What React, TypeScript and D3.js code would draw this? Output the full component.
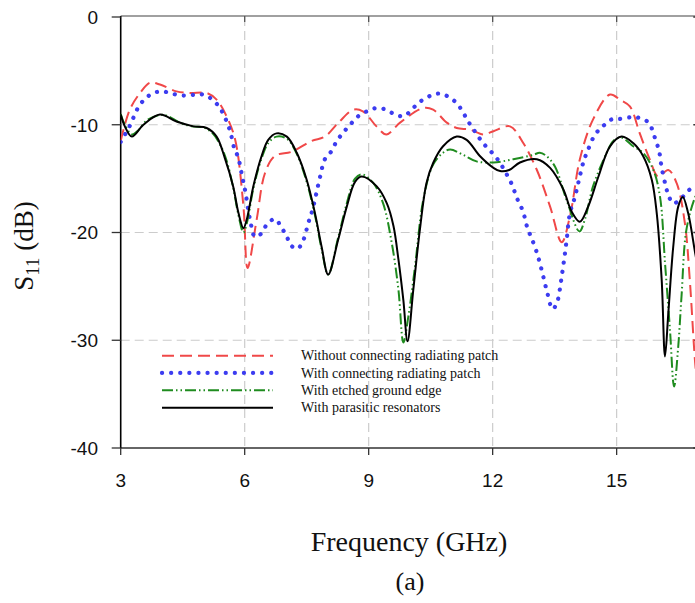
import React from "react";
import * as d3 from "d3";

const W = 695;
const H = 603;

const xTicks = [3, 6, 9, 12, 15];
const yTicks = [0, -10, -20, -30, -40];

const seriesNames = [
  "Without connecting radiating patch",
  "With connecting radiating patch",
  "With etched ground edge",
  "With parasitic resonators",
];

const redFreq = [3.0, 3.22, 3.47, 3.71, 3.95, 4.35, 4.68, 5.08, 5.32, 5.56, 5.77, 5.97, 6.07, 6.29, 6.49, 6.73, 7.14, 7.62, 7.94, 8.27, 8.63, 8.86, 9.19, 9.43, 9.76, 10.32, 10.56, 10.89, 11.13, 11.45, 11.77, 12.02, 12.42, 12.74, 13.07, 13.39, 13.67, 13.87, 14.11, 14.43, 14.84, 15.08, 15.32, 15.56, 15.8, 16.0, 16.25, 16.45, 16.65, 16.77, 16.9, 17.0];
const redS11 = [-11.5, -8.6, -7.05, -6.1, -6.27, -6.9, -7.05, -7.05, -7.67, -9.2, -11.4, -17.6, -23.3, -18.8, -14.5, -12.9, -12.5, -11.5, -11.1, -9.8, -8.6, -8.75, -10.15, -10.9, -9.8, -8.45, -8.6, -9.8, -10.3, -10.45, -10.9, -10.6, -10.15, -11.7, -14.2, -17.6, -20.9, -18.5, -13.2, -9.5, -7.2, -7.67, -8.3, -10.8, -13.2, -14.8, -14.2, -15.4, -19.1, -24.4, -32.1, -36];

const blueFreq = [3.0, 3.22, 3.43, 3.59, 3.79, 4.03, 4.23, 4.43, 4.68, 4.89, 5.1, 5.32, 5.47, 5.64, 5.75, 5.84, 5.93, 6.02, 6.13, 6.25, 6.4, 6.53, 6.73, 6.9, 7.02, 7.12, 7.28, 7.42, 7.54, 7.64, 7.82, 7.94, 8.09, 8.23, 8.37, 8.55, 8.75, 8.99, 9.19, 9.42, 9.64, 9.86, 10.06, 10.28, 10.5, 10.71, 10.93, 11.14, 11.29, 11.41, 11.55, 11.69, 11.86, 12.06, 12.22, 12.34, 12.46, 12.54, 12.62, 12.73, 12.85, 12.94, 13.08, 13.2, 13.31, 13.45, 13.55, 13.62, 13.67, 13.73, 13.79, 13.87, 13.99, 14.09, 14.2, 14.29, 14.48, 14.68, 14.88, 15.08, 15.36, 15.55, 15.77, 15.95, 16.03, 16.09, 16.19, 16.25, 16.37, 16.57, 16.77, 17.0];
const blueS11 = [-11.6, -10.1, -8.35, -7.6, -7.05, -6.92, -7.1, -7.27, -7.27, -7.14, -7.36, -8.04, -8.9, -10.5, -12.2, -13.0, -14.6, -16.3, -18.8, -20.4, -20.1, -19.3, -18.75, -19.6, -20.4, -21.2, -21.5, -20.7, -19.1, -17.9, -14.9, -13.2, -12.5, -11.5, -10.8, -10.0, -9.2, -8.7, -8.45, -8.6, -9.06, -9.2, -8.5, -7.76, -7.3, -7.1, -7.4, -8.04, -8.9, -9.7, -10.5, -11.3, -12.1, -12.9, -13.8, -14.6, -15.5, -16.3, -17.1, -18.0, -19.7, -20.5, -22.0, -23.7, -25.4, -27.1, -26.6, -25.4, -24.1, -22.5, -20.7, -18.2, -16.7, -15.1, -13.4, -12.5, -10.9, -10.1, -9.5, -9.46, -9.3, -9.37, -9.8, -11.5, -12.5, -14.0, -15.7, -16.5, -17.3, -16.8, -16.0, -15.5];

const greenFreq = [3.0, 3.1, 3.27, 3.43, 3.63, 3.95, 4.11, 4.43, 4.72, 5.0, 5.2, 5.4, 5.56, 5.72, 5.85, 5.97, 6.06, 6.21, 6.41, 6.57, 6.77, 7.02, 7.26, 7.5, 7.7, 7.86, 8.02, 8.26, 8.47, 8.67, 8.83, 9.11, 9.35, 9.56, 9.72, 9.84, 9.96, 10.12, 10.32, 10.56, 10.8, 10.97, 11.29, 11.61, 12.02, 12.5, 12.98, 13.14, 13.3, 13.51, 13.79, 14.1, 14.23, 14.43, 14.76, 14.92, 15.12, 15.4, 15.64, 15.89, 16.05, 16.17, 16.29, 16.39, 16.49, 16.57, 16.69, 16.9, 17.0];
const greenS11 = [-9.0, -10.0, -10.9, -10.5, -9.6, -9.1, -9.15, -9.8, -10.15, -10.25, -10.7, -11.8, -13.3, -15.8, -18.4, -20.0, -19.0, -15.9, -13.1, -11.7, -11.1, -11.3, -12.7, -15.3, -18.4, -21.5, -23.9, -20.5, -17.3, -15.0, -14.6, -15.4, -17.3, -21.0, -25.3, -30.2, -27.8, -23.2, -17.0, -13.7, -12.6, -12.3, -12.8, -13.4, -13.5, -13.2, -12.8, -12.6, -12.9, -13.9, -17.0, -19.9, -18.8, -15.7, -12.6, -11.5, -11.2, -12.0, -12.6, -14.2, -16.7, -22.8, -29.0, -34.3, -30.6, -25.9, -19.7, -16.7, -16.0];

const blackFreq = [3.0, 3.1, 3.27, 3.55, 3.95, 4.35, 4.76, 5.08, 5.32, 5.52, 5.72, 5.85, 5.97, 6.05, 6.21, 6.41, 6.57, 6.77, 7.02, 7.26, 7.5, 7.7, 7.86, 8.02, 8.26, 8.47, 8.67, 8.83, 9.19, 9.44, 9.6, 9.72, 9.84, 9.94, 10.08, 10.24, 10.4, 10.56, 10.8, 11.13, 11.37, 11.69, 12.02, 12.18, 12.4, 12.66, 13.07, 13.39, 13.71, 13.91, 14.11, 14.31, 14.56, 14.84, 15.12, 15.4, 15.64, 15.85, 15.97, 16.09, 16.17, 16.25, 16.37, 16.49, 16.6, 16.73, 16.9, 17.0];
const blackS11 = [-9.06, -10.15, -11.1, -10.0, -9.06, -9.7, -10.15, -10.3, -11.1, -13.1, -15.7, -18.2, -19.6, -18.8, -15.7, -12.9, -11.4, -10.8, -11.1, -12.6, -15.1, -18.2, -21.3, -23.9, -20.7, -17.6, -15.3, -14.8, -15.7, -17.3, -19.4, -22.5, -26.3, -30.1, -25.3, -19.7, -15.4, -13.55, -12.0, -11.1, -11.4, -12.9, -14.0, -14.3, -14.2, -13.5, -13.2, -14.0, -16.0, -18.05, -19.0, -17.6, -14.8, -12.0, -11.1, -11.7, -12.9, -15.1, -18.2, -24.4, -31.5, -27.5, -21.3, -17.6, -16.7, -18.2, -21.9, -24.0];

const x = d3.scaleLinear().domain([3, 17]).range([120.7, 699.3]);
const y = d3.scaleLinear().domain([0, -40]).range([17, 448]);

function toPath(fs: number[], vs: number[]) {
  const pts: [number, number][] = fs.map((f, i) => [f, vs[i]]);
  const gen = d3
    .line<[number, number]>()
    .x((d) => x(d[0]))
    .y((d) => y(d[1]))
    .curve(d3.curveCatmullRom.alpha(0.5));
  return gen(pts) || "";
}

const styles = [
  { stroke: "#f04848", width: 2, dash: "12 6", cap: "butt" as const },
  { stroke: "#3c3cf0", width: 4.2, dash: "0.1 9", cap: "round" as const },
  { stroke: "#1f8c1f", width: 2, dash: "11 3 1.5 3 1.5 3", cap: "butt" as const },
  { stroke: "#000000", width: 2, dash: "none", cap: "butt" as const },
];

export default function App() {
  const data = [
    toPath(redFreq, redS11),
    toPath(blueFreq, blueS11),
    toPath(greenFreq, greenS11),
    toPath(blackFreq, blackS11),
  ];
  const x0 = x(3);
  const x1 = x(17);
  const y0 = y(0);
  const y1 = y(-40);
  const legendY = [355.7, 372.9, 390.3, 407.7];
  return (
    <svg
      width={W}
      height={H}
      style={{ position: "absolute", left: 0, top: 0, background: "#fff" }}
    >
      <defs>
        <clipPath id="plot">
          <rect x={x0} y={y0 - 2} width={x1 - x0} height={y1 - y0 + 4} />
        </clipPath>
      </defs>
      <rect width={W} height={H} fill="#fff" />
      {xTicks.slice(1).map((t) => (
        <line key={"gx" + t} x1={x(t)} x2={x(t)} y1={y0} y2={y1} stroke="#cccccc" strokeWidth={1.2} strokeDasharray="9 5" />
      ))}
      {yTicks.slice(1, 4).map((t) => (
        <line key={"gy" + t} x1={x0} x2={x1} y1={y(t)} y2={y(t)} stroke="#cccccc" strokeWidth={1.2} strokeDasharray="9 5" />
      ))}
      <line x1={x0} x2={x1} y1={y0 - 1} y2={y0 - 1} stroke="#808080" strokeWidth={1.3} />
      <line x1={x0} x2={x1} y1={y1} y2={y1} stroke="#333" strokeWidth={1.5} />
      <line x1={x0} x2={x0} y1={y0 - 1} y2={y1} stroke="#000" strokeWidth={1.6} />
      <line x1={x1} x2={x1} y1={y0 - 1} y2={y1} stroke="#333" strokeWidth={1.5} />
      {yTicks.map((t) => (
        <g key={"yt" + t}>
          <line x1={x0 - 9} x2={x0} y1={y(t)} y2={y(t)} stroke="#333" strokeWidth={1.3} />
          <line x1={x1 - 6} x2={x1} y1={y(t)} y2={y(t)} stroke="#333" strokeWidth={1.3} />
          <text x={98} y={y(t)} dy="0.36em" textAnchor="end" fontFamily="'Liberation Sans', Arial, sans-serif" fontSize={19} fill="#111">
            {t}
          </text>
        </g>
      ))}
      {xTicks.map((t) => (
        <g key={"xt" + t}>
          <line x1={x(t)} x2={x(t)} y1={y1} y2={y1 + 7} stroke="#333" strokeWidth={1.3} />
          {t > 3 && <line x1={x(t)} x2={x(t)} y1={y0 - 1} y2={y0 + 5} stroke="#555" strokeWidth={1.3} />}
          <text x={x(t)} y={480} dy="0.36em" textAnchor="middle" fontFamily="'Liberation Sans', Arial, sans-serif" fontSize={19} fill="#111">
            {t}
          </text>
        </g>
      ))}
      <g clipPath="url(#plot)">
        {data.map((d, i) => (
          <path
            key={i}
            d={d}
            fill="none"
            stroke={styles[i].stroke}
            strokeWidth={styles[i].width}
            strokeDasharray={styles[i].dash}
            strokeLinecap={styles[i].cap}
          />
        ))}
      </g>
      {seriesNames.map((n, i) => (
        <g key={n}>
          <line
            x1={162}
            x2={273}
            y1={legendY[i]}
            y2={legendY[i]}
            stroke={styles[i].stroke}
            strokeWidth={styles[i].width}
            strokeDasharray={styles[i].dash}
            strokeLinecap={styles[i].cap}
          />
          <text x={301} y={legendY[i]} dy="0.33em" fontFamily="'Liberation Serif', 'Times New Roman', serif" fontSize={14} fill="#111">
            {n}
          </text>
        </g>
      ))}
      <text x={409} y={541} dy="0.35em" textAnchor="middle" fontFamily="'Liberation Serif', 'Times New Roman', serif" fontSize={28} fill="#111">
        Frequency (GHz)
      </text>
      <text x={410} y={581} dy="0.35em" textAnchor="middle" fontFamily="'Liberation Serif', 'Times New Roman', serif" fontSize={26} fill="#111">
        (a)
      </text>
      <text
        transform="translate(33,246) rotate(-90)"
        textAnchor="middle"
        fontFamily="'Liberation Serif', 'Times New Roman', serif"
        fontSize={27}
        fill="#111"
      >
        S<tspan fontSize={19} dy={6}>11</tspan>
        <tspan dy={-6}> (dB)</tspan>
      </text>
    </svg>
  );
}
